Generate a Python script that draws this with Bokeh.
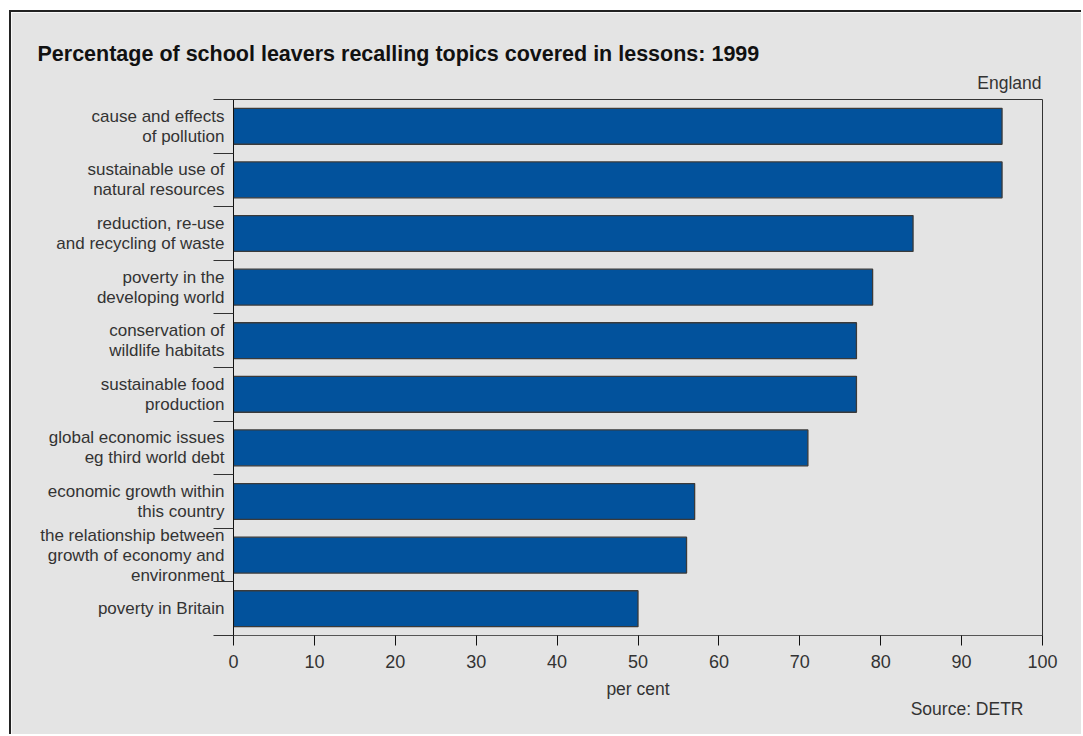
from bokeh.plotting import figure
from bokeh.models import FixedTicker, Range1d, ColumnDataSource, Title
from bokeh.embed import file_html
from bokeh.resources import INLINE

# Data (top to bottom as in the reference)
topics = [
    "cause and effects\nof pollution",
    "sustainable use of\nnatural resources",
    "reduction, re-use\nand recycling of waste",
    "poverty in the\ndeveloping world",
    "conservation of\nwildlife habitats",
    "sustainable food\nproduction",
    "global economic issues\neg third world debt",
    "economic growth within\nthis country",
    "the relationship between\ngrowth of economy and\nenvironment",
    "poverty in Britain",
]
percent = [95, 95, 84, 79, 77, 77, 71, 57, 56, 50]
x_ticks = [0, 10, 20, 30, 40, 50, 60, 70, 80, 90, 100]

n = len(topics)
ypos = [n - 0.5 - i for i in range(n)]

BG = "#e4e4e4"
TXT = "#333333"
FONT = "Liberation Sans"

p = figure(
    width=1072, height=724,
    x_range=Range1d(0, 100), y_range=Range1d(0, n),
    output_backend="svg", toolbar_location=None,
    background_fill_color=BG, border_fill_color=BG,
    min_border_left=222, min_border_right=41,
    min_border_top=87, min_border_bottom=101,
    margin=(10, 0, 0, 9),
    styles={"border-left": "2px solid #222", "border-top": "2px solid #222"},
)
p.outline_line_color = "#333333"
p.outline_line_width = 1
p.grid.visible = False

src = ColumnDataSource(dict(y=ypos, right=percent))
p.hbar(y="y", left=0, right="right", height=0.67, source=src,
       fill_color="#02529c", line_color="#3a3a3a", line_width=1.3)

yax = p.yaxis[0]
yax.ticker = FixedTicker(ticks=ypos, minor_ticks=list(range(0, n + 1)))
yax.major_label_overrides = {yp: t for yp, t in zip(ypos, topics)}
yax.major_tick_out = 0
yax.major_tick_in = 0
yax.minor_tick_out = 20
yax.minor_tick_in = 0
yax.minor_tick_line_color = "#333333"
yax.axis_line_color = "#111111"
yax.major_label_standoff = -11
yax.major_label_text_font = FONT
yax.major_label_text_font_size = "17px"
yax.major_label_text_line_height = 1.05
yax.major_label_text_color = TXT
yax.major_label_text_align = "right"

xax = p.xaxis[0]
xax.ticker = FixedTicker(ticks=x_ticks)
xax.major_tick_out = 10
xax.major_tick_in = 0
xax.minor_tick_out = 0
xax.minor_tick_in = 0
xax.major_tick_line_color = "#111111"
xax.axis_line_color = "#555555"
xax.major_label_standoff = 9
xax.major_label_text_font = FONT
xax.major_label_text_font_size = "18px"
xax.major_label_text_color = TXT
xax.axis_label = "per cent"
xax.axis_label_text_font = FONT
xax.axis_label_text_font_size = "17.5px"
xax.axis_label_text_font_style = "normal"
xax.axis_label_text_color = TXT
xax.axis_label_standoff = 8

p.add_layout(Title(text="England", align="right", offset=1, standoff=14,
                   text_font=FONT, text_font_size="17.5px", text_font_style="normal",
                   text_color=TXT), "above")
p.add_layout(Title(text="Percentage of school leavers recalling topics covered in lessons: 1999",
                   align="left", offset=-196, standoff=-4,
                   text_font=FONT, text_font_size="21.5px", text_font_style="bold",
                   text_color="#111111"), "above")
p.add_layout(Title(text="Source: DETR", align="right", offset=19, standoff=-10,
                   text_font=FONT, text_font_size="17.5px", text_font_style="normal",
                   text_color=TXT), "below")

open("out.html", "w").write(file_html(p, INLINE))
